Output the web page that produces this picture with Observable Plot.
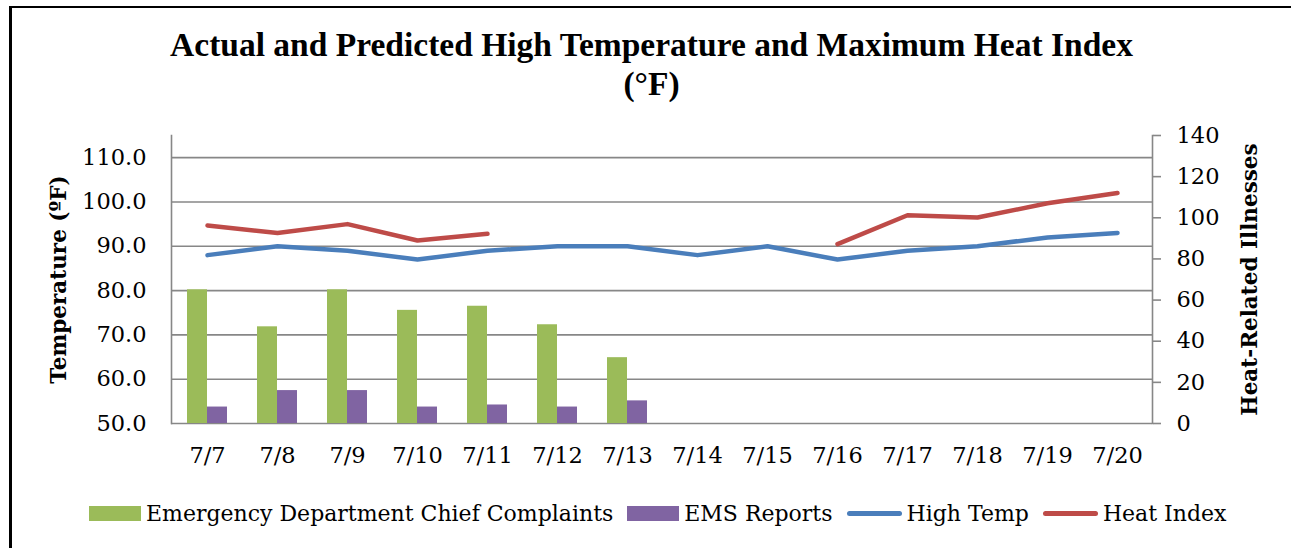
<!DOCTYPE html>
<html><head><meta charset="utf-8">
<script src="https://cdn.jsdelivr.net/npm/d3@7"></script>
<script src="https://cdn.jsdelivr.net/npm/@observablehq/plot@0.6"></script>
<style>
html,body{margin:0;padding:0;background:#fff;}
#wrap{position:relative;width:1291px;height:548px;overflow:hidden;background:#fff;}
#border{position:absolute;left:9px;top:6px;width:1400px;height:700px;border-left:3px solid #000;border-top:2px solid #000;pointer-events:none;}
#title{position:absolute;left:6px;top:25px;width:1291px;text-align:center;font:bold 33.5px "Liberation Serif";line-height:39px;color:#000;}
#chart{position:absolute;left:0;top:120px;}
#legend{position:absolute;left:89px;top:480px;height:66px;display:flex;align-items:center;font:22px "DejaVu Serif";color:#000;white-space:nowrap;}
#legend .item{display:flex;align-items:center;margin-right:14px;}
#legend .sw{width:52px;height:15px;margin-right:5px;}
#legend .ln{width:55px;height:5px;border-radius:3px;margin-right:5px;}
#chart g[aria-label="y-axis label"] text{font-weight:bold;font-size:21.5px;}
</style></head>
<body>
<div id="wrap">
  <div id="title">Actual and Predicted High Temperature and Maximum Heat Index<br>(°F)</div>
  <div id="chart"></div>
  <div id="legend"></div>
  <div id="border"></div>
</div>
<script>
// ---- data ----
const dates = ["7/7","7/8","7/9","7/10","7/11","7/12","7/13","7/14","7/15","7/16","7/17","7/18","7/19","7/20"];
const highTemp = [88, 90, 89, 87, 89, 90, 90, 88, 90, 87, 89, 90, 92, 93];
const heatIndex = [94.7, 93, 95, 91.3, 92.8, null, null, null, null, 90.5, 97, 96.5, 99.7, 102];
const edComplaints = [65, 47, 65, 55, 57, 48, 32, null, null, null, null, null, null, null];
const emsReports = [8, 16, 16, 8, 9, 8, 11, null, null, null, null, null, null, null];
const tempTicks = [50, 60, 70, 80, 90, 100, 110];
const illnessTicks = [0, 20, 40, 60, 80, 100, 120, 140];
const tempDomain = [50, 115];
const illnessDomain = [0, 140];
const seriesNames = ["Emergency Department Chief Complaints", "EMS Reports", "High Temp", "Heat Index"];
const seriesColors = ["#9bbb59", "#8064a2", "#4a7ebb", "#be4b48"];

// ---- helpers ----
const k = (tempDomain[1] - tempDomain[0]) / (illnessDomain[1] - illnessDomain[0]);
const toTemp = v => tempDomain[0] + (v - illnessDomain[0]) * k;
const fromTemp = t => illnessDomain[0] + (t - tempDomain[0]) / k;
const rows = dates.map((date, i) => ({date, high: highTemp[i], heat: heatIndex[i], ed: edComplaints[i], ems: emsReports[i]}));
const grid = "#878787";

const chart = Plot.plot({
  width: 1291, height: 360,
  marginLeft: 171, marginRight: 139, marginTop: 15, marginBottom: 57,
  x: {type: "band", domain: dates, padding: 0},
  y: {domain: tempDomain},
  style: {fontFamily: '"DejaVu Serif"', fontSize: "22.5px", background: "white", color: "black"},
  marks: [
    Plot.gridY(tempTicks, {stroke: grid, strokeOpacity: 1, strokeWidth: 1.6}),
    Plot.frame({anchor: "left", stroke: grid, strokeWidth: 1.6}),
    Plot.frame({anchor: "right", stroke: grid, strokeWidth: 1.6}),
    Plot.barY(rows.filter(d => d.ed != null), {x: "date", y1: () => toTemp(0), y2: d => toTemp(d.ed), fill: seriesColors[0], insetLeft: 15, insetRight: 35}),
    Plot.barY(rows.filter(d => d.ems != null), {x: "date", y1: () => toTemp(0), y2: d => toTemp(d.ems), fill: seriesColors[1], insetLeft: 35, insetRight: 15}),
    Plot.lineY(rows, {x: "date", y: "high", stroke: seriesColors[2], strokeWidth: 4.5}),
    Plot.lineY(rows, {x: "date", y: d => d.heat, stroke: seriesColors[3], strokeWidth: 4.5}),
    Plot.axisX({tickSize: 0, tickPadding: 24, label: null}),
    Plot.axisY(tempTicks, {anchor: "left", tickSize: 0, tickPadding: 25, tickFormat: d3.format(".1f"),
      label: "Temperature (ºF)", labelAnchor: "center", labelOffset: 121, labelArrow: "none"}),
    Plot.axisY(illnessTicks.map(toTemp), {anchor: "right", tickSize: 8, tickPadding: 16, stroke: grid, strokeWidth: 1.6,
      tickFormat: t => String(Math.round(fromTemp(t))),
      label: "Heat-Related Illnesses", labelAnchor: "center", labelOffset: 104, labelArrow: "none"})
  ]
});
document.getElementById("chart").appendChild(chart);

// ---- legend ----
const legend = document.getElementById("legend");
seriesNames.forEach((name, i) => {
  const item = document.createElement("div");
  item.className = "item";
  const sw = document.createElement("div");
  sw.className = i < 2 ? "sw" : "ln";
  sw.style.background = seriesColors[i];
  const tx = document.createElement("span");
  tx.textContent = name;
  item.appendChild(sw); item.appendChild(tx);
  legend.appendChild(item);
});
</script>
</body></html>
